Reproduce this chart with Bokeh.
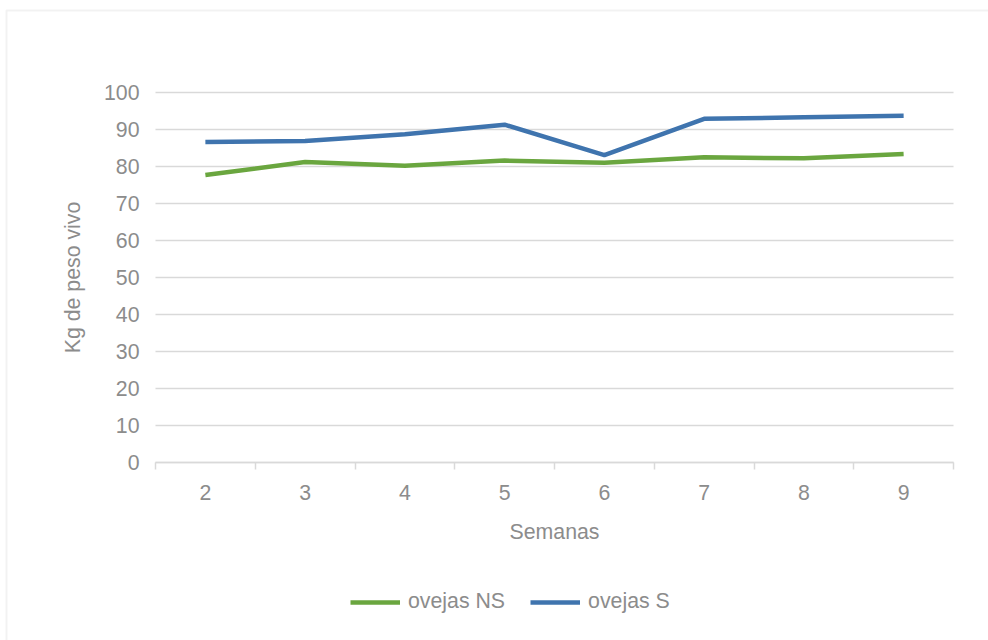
import math
from bokeh.plotting import figure
from bokeh.models import (Range1d, FixedTicker, Legend, LegendItem, LinearAxis,
                          BoxAnnotation, Label)
from bokeh.embed import file_html
from bokeh.resources import INLINE

semanas = [2, 3, 4, 5, 6, 7, 8, 9]
ovejas_ns = [77.7, 81.2, 80.2, 81.6, 81.0, 82.5, 82.2, 83.4]
ovejas_s = [86.6, 86.9, 88.7, 91.3, 83.1, 92.9, 93.3, 93.7]
y_ticks = [0, 10, 20, 30, 40, 50, 60, 70, 80, 90, 100]
x_title = "Semanas"
y_title = "Kg de peso vivo"

FONT = "Liberation Sans"
FS = "21.3px"
TXT = "#8c8c8c"
GRID = "#d9d9d9"
GREEN = "#6aa63f"
BLUE = "#3f74ae"

W, H = 988, 640
# plot area in pixels (as in the reference)
PL, PR, PT, PB = 155, 953, 92, 462
X0, X1 = semanas[0] - 0.5, semanas[-1] + 0.5
Y0, Y1 = y_ticks[0], y_ticks[-1]
kx = (PR - PL) / (X1 - X0)
ky = (PB - PT) / (Y1 - Y0)

# the frame covers the whole canvas; ranges are set so that the data area
# lands on the reference plot area
p = figure(width=W, height=H, output_backend="svg", toolbar_location=None,
           x_axis_location=None, y_axis_location=None,
           x_range=Range1d(X0 - PL / kx, X1 + (W - PR) / kx),
           y_range=Range1d(Y0 - (H - PB) / ky, Y1 + PT / ky),
           min_border=0)
p.outline_line_color = None
p.background_fill_color = "white"
p.border_fill_color = "white"
p.grid.visible = False

# outer chart border (left and top edges visible, rest beyond the picture)
p.add_layout(BoxAnnotation(left=X0 - (PL - 6) / kx, right=X1 + 1000 / kx,
                           top=Y1 + (PT - 10) / ky, bottom=Y0 - 1000 / ky,
                           fill_color=None, line_color="#d4d4d4", line_width=2,
                           level="underlay"))

# horizontal gridlines over the plot area
p.segment(x0=[X0] * len(y_ticks), x1=[X1] * len(y_ticks), y0=y_ticks,
          y1=y_ticks, line_color=GRID, line_width=1.5)

# y axis
yax = LinearAxis(fixed_location=X0, bounds=(Y0, Y1),
                 ticker=FixedTicker(ticks=y_ticks))
yax.axis_line_color = None
yax.major_tick_line_color = None
yax.major_tick_out = 0
yax.major_tick_in = 0
yax.minor_tick_line_color = None
yax.minor_tick_out = 0
yax.major_label_standoff = 16
yax.major_label_text_font = FONT
yax.major_label_text_font_size = FS
yax.major_label_text_color = TXT
p.add_layout(yax, "left")

# x axis
xax = LinearAxis(fixed_location=Y0, bounds=(X0, X1),
                 ticker=FixedTicker(ticks=semanas,
                                    minor_ticks=[X0 + i for i in range(len(semanas) + 1)]))
xax.axis_line_color = GRID
xax.axis_line_width = 1.5
xax.major_tick_line_color = None
xax.major_tick_out = 0
xax.major_tick_in = 0
xax.minor_tick_line_color = GRID
xax.minor_tick_line_width = 1.5
xax.minor_tick_out = 7
xax.minor_tick_in = 0
xax.major_label_standoff = 15
xax.major_label_text_font = FONT
xax.major_label_text_font_size = FS
xax.major_label_text_color = TXT
p.add_layout(xax, "below")

# axis titles
p.add_layout(Label(x=(X0 + X1) / 2, y=Y0 - (531.5 - PB) / ky, text=x_title,
                   text_align="center", text_baseline="middle",
                   text_font=FONT, text_font_size=FS, text_color=TXT))
p.add_layout(Label(x=X0 - (PL - 72) / kx, y=(Y0 + Y1) / 2, text=y_title,
                   angle=math.pi / 2, text_align="center",
                   text_baseline="middle",
                   text_font=FONT, text_font_size=FS, text_color=TXT))

r_ns = p.line(semanas, ovejas_ns, line_color=GREEN, line_width=4.5,
              line_join="round")
r_s = p.line(semanas, ovejas_s, line_color=BLUE, line_width=4.5,
             line_join="round")

legend = Legend(items=[LegendItem(label="ovejas NS", renderers=[r_ns]),
                       LegendItem(label="ovejas S", renderers=[r_s])],
                orientation="horizontal", location=(350, 26),
                glyph_width=50, glyph_height=20, label_standoff=8, spacing=25,
                padding=0, margin=0, border_line_color=None,
                background_fill_alpha=0,
                label_text_font=FONT, label_text_font_size=FS,
                label_text_color=TXT)
p.add_layout(legend, "center")

open("out.html", "w").write(file_html(p, INLINE))
